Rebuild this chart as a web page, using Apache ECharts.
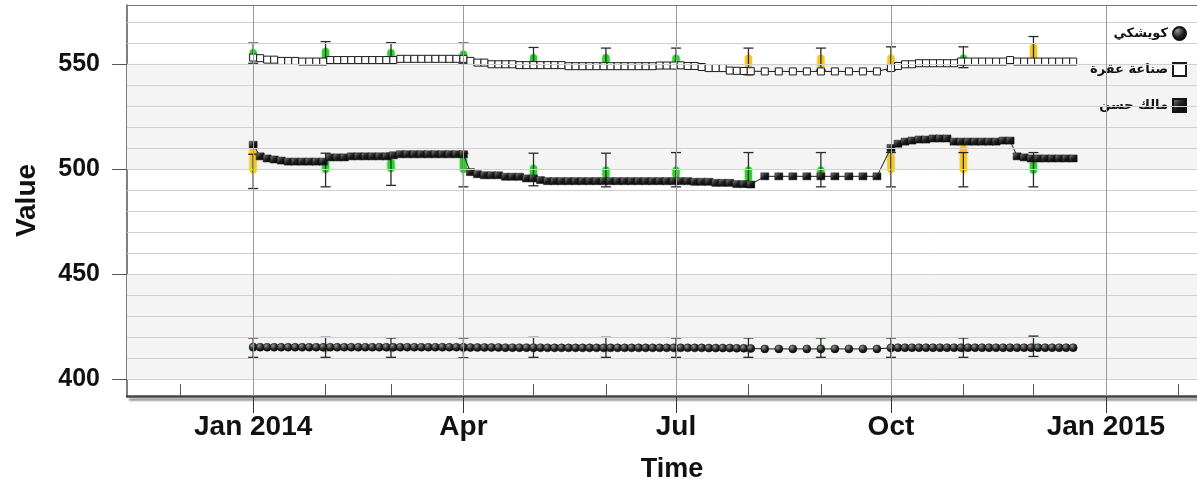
<!DOCTYPE html>
<html>
<head>
<meta charset="utf-8">
<script src="https://cdn.jsdelivr.net/npm/echarts@6/dist/echarts.min.js"></script>
<style>
  html, body { margin: 0; padding: 0; background: #fff; }
  #chart { width: 1197px; height: 484px; }
</style>
</head>
<body>
<div id="chart"></div>
<script>
// Sampling dates of the three simulated series (every 3 days, every 6 in Aug–Sep)
const dates = [
  '2014-01-01','2014-01-04','2014-01-07','2014-01-10','2014-01-13','2014-01-16','2014-01-19','2014-01-22','2014-01-25','2014-01-28','2014-01-31',
  '2014-02-03','2014-02-06','2014-02-09','2014-02-12','2014-02-15','2014-02-18','2014-02-21','2014-02-24','2014-02-27',
  '2014-03-02','2014-03-05','2014-03-08','2014-03-11','2014-03-14','2014-03-17','2014-03-20','2014-03-23','2014-03-26','2014-03-29',
  '2014-04-01','2014-04-04','2014-04-07','2014-04-10','2014-04-13','2014-04-16','2014-04-19','2014-04-22','2014-04-25','2014-04-28',
  '2014-05-01','2014-05-04','2014-05-07','2014-05-10','2014-05-13','2014-05-16','2014-05-19','2014-05-22','2014-05-25','2014-05-28','2014-05-31',
  '2014-06-03','2014-06-06','2014-06-09','2014-06-12','2014-06-15','2014-06-18','2014-06-21','2014-06-24','2014-06-27','2014-06-30',
  '2014-07-03','2014-07-06','2014-07-09','2014-07-12','2014-07-15','2014-07-18','2014-07-21','2014-07-24','2014-07-27','2014-07-30',
  '2014-08-02','2014-08-08','2014-08-14','2014-08-20','2014-08-26',
  '2014-09-01','2014-09-07','2014-09-13','2014-09-19','2014-09-25',
  '2014-10-01','2014-10-04','2014-10-07','2014-10-10','2014-10-13','2014-10-16','2014-10-19','2014-10-22','2014-10-25','2014-10-28','2014-10-31',
  '2014-11-03','2014-11-06','2014-11-09','2014-11-12','2014-11-15','2014-11-18','2014-11-21','2014-11-24','2014-11-27','2014-11-30',
  '2014-12-03','2014-12-06','2014-12-09','2014-12-12','2014-12-15','2014-12-18'
];

const seriesNames = ['كويشكي', 'صناعة عقرة', 'مالك حسن'];
const legendIcons = ['circle', 'rect', 'rect'];

// كويشكي
const koyshkiValues = [
  415.3,415.2,415.2,415.2,415.2,415.2,415.2,415.2,415.2,415.2,415.2,
  415.2,415.2,415.2,415.2,415.2,415.2,415.2,415.2,415.2,
  415.2,415.2,415.2,415.2,415.2,415.2,415.2,415.2,415.2,415.2,
  415.2,415.1,415.1,415.1,415.1,415.1,415.0,415.0,415.0,415.0,
  415.0,415.0,414.9,414.9,414.9,414.9,414.9,414.9,414.9,414.9,414.9,
  414.9,414.9,414.9,414.9,414.9,414.9,414.9,414.9,414.9,414.9,
  414.9,414.9,414.9,414.9,414.8,414.8,414.8,414.8,414.7,414.7,
  414.6,414.4,414.4,414.4,414.4,
  414.4,414.4,414.4,414.4,414.4,
  414.9,415.0,415.0,415.0,415.0,415.0,415.0,415.0,415.0,415.0,415.0,
  415.0,415.0,415.0,415.0,415.0,415.0,415.0,415.0,415.0,415.0,
  415.0,415.0,415.0,415.0,415.0,415.0
];

// صناعة عقرة
const aqraValues = [
  553.0,552.7,552.0,552.0,551.4,551.4,551.4,551.1,551.1,551.1,551.1,
  551.8,551.8,551.8,551.8,551.8,551.8,551.8,551.8,551.8,
  551.8,552.4,552.4,552.4,552.4,552.4,552.4,552.4,552.4,552.4,
  552.4,551.4,550.6,550.6,549.8,549.8,549.8,549.8,549.4,549.4,
  549.4,549.4,549.4,549.4,549.4,548.9,548.9,548.9,548.9,548.9,548.9,
  548.9,548.9,548.9,548.9,548.9,548.9,548.9,549.2,549.2,549.2,
  549.3,549.0,549.0,548.5,548.0,548.0,548.0,546.8,546.7,546.6,
  546.5,546.4,546.4,546.4,546.4,
  546.4,546.4,546.4,546.4,546.4,
  548.0,549.0,549.8,549.8,550.3,550.3,550.3,550.3,550.3,550.3,551.1,
  551.1,551.1,551.1,551.1,551.1,551.1,551.8,551.1,551.1,551.1,
  551.1,551.1,551.1,551.1,551.1,551.1
];

// مالك حسن
const malikValues = [
  511.5,506.0,505.0,504.5,504.0,503.5,503.5,503.5,503.5,503.5,503.5,
  505.5,505.5,505.5,506.0,506.0,506.0,506.0,506.0,506.0,
  506.5,507.0,507.0,507.0,507.0,507.0,507.0,507.0,507.0,507.0,
  507.0,498.5,497.5,497.0,497.0,497.0,496.3,496.3,496.3,495.5,
  495.5,494.7,494.2,494.2,494.2,494.2,494.2,494.2,494.2,494.2,494.2,
  494.2,494.2,494.2,494.2,494.2,494.2,494.2,494.2,494.2,494.2,
  494.2,494.2,493.9,493.9,493.9,493.4,493.4,493.4,492.8,492.8,
  492.6,496.5,496.5,496.5,496.5,
  496.5,496.5,496.5,496.5,496.5,
  510.0,512.0,513.0,513.5,514.0,514.0,514.5,514.5,514.5,513.0,513.0,
  513.0,513.0,513.0,513.0,513.0,513.5,513.5,506.0,505.5,505.0,
  505.0,505.0,505.0,505.0,505.0,505.0
];

// Monthly observations: marker range, error range and quality flag
const obsDates = ['2014-01-01','2014-02-01','2014-03-01','2014-04-01','2014-05-01','2014-06-01',
                  '2014-07-01','2014-08-01','2014-09-01','2014-10-01','2014-11-01','2014-12-01'];

const koyshkiObsLow   = [413.4,413.6,413.6,413.6,413.6,413.6,413.6,413.6,413.6,413.6,413.6,413.6];
const koyshkiObsHigh  = [416.5,416.4,416.4,416.4,416.4,416.4,416.4,416.4,416.4,416.4,416.4,417.0];
const koyshkiErrLow   = [410.4,410.4,410.4,410.2,410.4,410.4,410.4,410.4,410.4,410.4,410.4,410.8];
const koyshkiErrHigh  = [419.6,419.9,419.6,419.6,419.9,419.9,419.6,419.6,419.6,419.6,419.6,420.5];
const koyshkiFlag     = ['pass','pass','pass','pass','pass','pass','pass','pass','pass','pass','pass','pass'];

const aqraObsLow   = [551.4,550.0,550.6,551.1,548.2,548.0,548.0,544.3,545.0,546.7,549.0,550.0];
const aqraObsHigh  = [557.0,557.5,557.0,556.2,554.6,554.6,554.3,554.3,554.3,554.3,554.3,559.4];
const aqraErrLow   = [550.3,550.3,550.3,550.3,548.2,548.0,548.0,544.8,547.0,547.0,548.2,550.0];
const aqraErrHigh  = [559.9,560.6,560.1,559.9,557.8,557.5,557.5,557.5,557.5,558.1,558.1,563.0];
const aqraFlag     = ['pass','pass','pass','pass','pass','pass','pass','warn','warn','warn','pass','warn'];

const malikObsLow   = [498.0,498.2,498.7,498.2,496.3,495.5,495.5,493.9,495.5,498.2,498.2,497.9];
const malikObsHigh  = [511.5,504.3,504.7,506.0,501.9,501.1,501.1,501.1,501.1,507.5,511.5,504.3];
const malikErrLow   = [490.7,491.5,492.2,491.5,492.0,491.5,491.5,491.5,491.5,491.5,491.5,491.5];
const malikErrHigh  = [507.0,507.5,507.5,507.5,507.5,507.5,507.8,507.8,507.8,507.8,507.8,507.8];
const malikFlag     = ['warn','pass','pass','pass','pass','pass','pass','pass','pass','warn','warn','pass'];

// Axis ticks and labels
const yTickValues = [400, 450, 500, 550];
const yGridValues = [400, 410, 420, 430, 440, 450, 460, 470, 480, 490, 500, 510, 520, 530, 540, 550, 560, 570];
const yBands = [[400, 450], [500, 550]];
const quarterTicks = ['2014-01-01', '2014-04-01', '2014-07-01', '2014-10-01', '2015-01-01'];
const monthTicks = ['2013-12-01','2014-01-01','2014-02-01','2014-03-01','2014-04-01','2014-05-01','2014-06-01',
                    '2014-07-01','2014-08-01','2014-09-01','2014-10-01','2014-11-01','2014-12-01','2015-01-01','2015-02-01'];
const monthNames = ['Jan','Feb','Mar','Apr','May','Jun','Jul','Aug','Sep','Oct','Nov','Dec'];
const xRange = ['2013-11-08', '2015-02-09'];
const yRange = [392, 578];

// Dates are placed on a numeric axis as millisecond timestamps
const ts = s => +echarts.time.parse(s);
const flagColor = { pass: '#2fd12f', warn: '#f4c61f' };

const chart = echarts.init(document.getElementById('chart'), null, { renderer: 'canvas' });

function pairs(values) { return dates.map((d, i) => [ts(d), values[i]]); }
function rangeData(lows, highs) { return obsDates.map((d, i) => [ts(d), lows[i], highs[i]]); }

const ballFill = new echarts.graphic.RadialGradient(0.35, 0.3, 0.75, [
  { offset: 0, color: '#9a9a9a' }, { offset: 0.55, color: '#262626' }, { offset: 1, color: '#000' }
]);
const blockFill = new echarts.graphic.LinearGradient(0, 0, 1, 1, [
  { offset: 0, color: '#8a8a8a' }, { offset: 0.5, color: '#1c1c1c' }, { offset: 1, color: '#000' }
]);

const obsFlagLookup = {};

function renderCapsule(params, api) {
  const x = api.value(0);
  const top = api.coord([x, api.value(2)]);
  const bot = api.coord([x, api.value(1)]);
  const w = 7;
  const flag = obsFlagLookup[params.seriesIndex][params.dataIndex];
  return {
    type: 'rect',
    shape: { x: top[0] - w / 2, y: top[1], width: w, height: Math.max(bot[1] - top[1], w), r: w / 2 },
    style: { fill: flagColor[flag], shadowBlur: 2, shadowColor: flagColor[flag] }
  };
}

function renderErrorBar(params, api) {
  const x = api.value(0);
  const hi = api.coord([x, api.value(2)]);
  const lo = api.coord([x, api.value(1)]);
  const half = 5;
  const style = { stroke: '#2a2a2a', lineWidth: 1.3 };
  return {
    type: 'group',
    children: [
      { type: 'line', shape: { x1: hi[0], y1: hi[1], x2: lo[0], y2: lo[1] }, style },
      { type: 'line', shape: { x1: hi[0] - half, y1: hi[1], x2: hi[0] + half, y2: hi[1] }, style },
      { type: 'line', shape: { x1: lo[0] - half, y1: lo[1], x2: lo[0] + half, y2: lo[1] }, style }
    ]
  };
}

const series = [];

// Background: shaded bands, grid lines, top frame line
series.push({
  type: 'line', data: [], silent: true, z: 0,
  markArea: {
    silent: true,
    itemStyle: { color: '#f4f4f4' },
    data: yBands.map(b => [{ yAxis: b[0] }, { yAxis: b[1] }])
  },
  markLine: {
    silent: true, symbol: 'none', animation: false,
    label: { show: false },
    data: yGridValues.map(v => ({ yAxis: v, lineStyle: { color: '#d0d0d0', width: 1, type: 'solid' } }))
      .concat(quarterTicks.map(d => ({ xAxis: ts(d), lineStyle: { color: '#9a9a9a', width: 1, type: 'solid' } })))
      .concat([{ yAxis: yRange[1], lineStyle: { color: '#777', width: 1, type: 'solid' } }])
  }
});

const groups = [
  { lows: koyshkiObsLow, highs: koyshkiObsHigh, flags: koyshkiFlag, eLow: koyshkiErrLow, eHigh: koyshkiErrHigh },
  { lows: aqraObsLow, highs: aqraObsHigh, flags: aqraFlag, eLow: aqraErrLow, eHigh: aqraErrHigh },
  { lows: malikObsLow, highs: malikObsHigh, flags: malikFlag, eLow: malikErrLow, eHigh: malikErrHigh }
];

groups.forEach(g => {
  obsFlagLookup[series.length] = g.flags;
  series.push({
    type: 'custom', silent: true, z: 2,
    renderItem: renderCapsule,
    encode: { x: 0, y: [1, 2] },
    data: rangeData(g.lows, g.highs)
  });
});
groups.forEach(g => {
  series.push({
    type: 'custom', silent: true, z: 3,
    renderItem: renderErrorBar,
    encode: { x: 0, y: [1, 2] },
    data: rangeData(g.eLow, g.eHigh)
  });
});

series.push({
  name: seriesNames[0], type: 'line', z: 4, data: pairs(koyshkiValues),
  symbol: 'circle', symbolSize: 8, showAllSymbol: true,
  lineStyle: { color: '#1a1a1a', width: 1 },
  itemStyle: { color: ballFill, borderColor: '#111', borderWidth: 0.5 }
});
series.push({
  name: seriesNames[1], type: 'line', z: 4, data: pairs(aqraValues),
  symbol: 'rect', symbolSize: 7, showAllSymbol: true,
  lineStyle: { color: '#1a1a1a', width: 1 },
  itemStyle: { color: '#ffffff', borderColor: '#1a1a1a', borderWidth: 1 }
});
series.push({
  name: seriesNames[2], type: 'line', z: 4, data: pairs(malikValues),
  symbol: 'rect', symbolSize: [8, 7], showAllSymbol: true,
  lineStyle: { color: '#1a1a1a', width: 1 },
  itemStyle: { color: blockFill, borderColor: '#111', borderWidth: 0.5 }
});

const axisFont = { fontFamily: 'Liberation Sans', fontWeight: 'bold', color: '#111' };
const quarterLabel = v => {
  const d = new Date(v); const m = d.getMonth();
  return m === 0 ? monthNames[m] + ' ' + d.getFullYear() : monthNames[m];
};

chart.setOption({
  animation: false,
  textStyle: { fontFamily: 'Liberation Sans' },
  grid: { left: 127, top: 5, right: 0, bottom: 88, show: false, containLabel: false, outerBoundsMode: 'none' },
  legend: {
    data: seriesNames.map((n, i) => ({ name: n, icon: legendIcons[i] })),
    orient: 'vertical', right: 5, top: 21, align: 'right',
    itemWidth: 13, itemHeight: 13, itemGap: 21,
    lineStyle: { opacity: 0 },
    textStyle: { fontFamily: 'DejaVu Sans', fontWeight: 'bold', fontSize: 13, color: '#111' }
  },
  xAxis: [
    {
      type: 'value', min: ts(xRange[0]), max: ts(xRange[1]),
      name: 'Time', nameLocation: 'middle', nameGap: 60,
      nameTextStyle: Object.assign({ fontSize: 27, padding: [0, 0, 0, 20] }, axisFont),
      axisLine: { show: true, lineStyle: { color: '#444', width: 2.5, shadowColor: 'rgba(0,0,0,0.45)', shadowBlur: 2, shadowOffsetX: 3, shadowOffsetY: 3 } },
      axisTick: { show: true, inside: false, length: 17, lineStyle: { color: '#333', width: 1 }, customValues: quarterTicks.map(ts) },
      axisLabel: Object.assign({ fontSize: 28, margin: 17, customValues: quarterTicks.map(ts), formatter: quarterLabel }, axisFont),
      splitLine: { show: false }
    },
    {
      type: 'value', min: ts(xRange[0]), max: ts(xRange[1]), position: 'bottom',
      axisLine: { show: false },
      axisTick: { show: true, inside: true, length: 12, lineStyle: { color: '#555', width: 1 }, customValues: monthTicks.map(ts) },
      axisLabel: { show: false },
      splitLine: { show: false }
    }
  ],
  yAxis: {
    type: 'value', min: yRange[0], max: yRange[1],
    name: 'Value', nameLocation: 'middle', nameGap: 86, nameRotate: 90,
    nameTextStyle: Object.assign({ fontSize: 28 }, axisFont),
    axisLine: { show: true, lineStyle: { color: '#555', width: 1.5 } },
    axisTick: { show: true, length: 15, lineStyle: { color: '#555', width: 1 }, customValues: yTickValues },
    axisLabel: Object.assign({ fontSize: 25, margin: 27, customValues: yTickValues }, axisFont),
    splitLine: { show: false }
  },
  series
});
</script>
</body>
</html>
